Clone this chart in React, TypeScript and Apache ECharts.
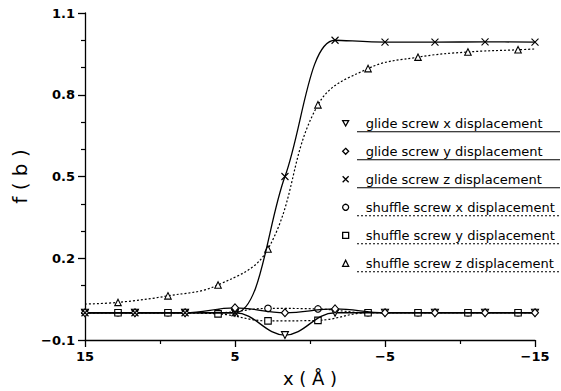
import React, { useEffect, useRef } from "react";
import * as echarts from "echarts";

// ---- data ----
const glidePositions = [15, 11.67, 8.33, 5, 1.67, -1.67, -5, -8.33, -11.67, -15];
const glideXDisp = [0, 0, 0, 0, -0.082, 0, 0, 0, 0, 0];
const glideYDisp = [0, 0, 0, 0.018, 0.0, 0.014, 0, 0, 0, 0];
const glideZDisp = [0, 0, 0, 0, 0.5, 1.0, 0.993, 0.993, 0.994, 0.993];

const shufflePositions = [15, 12.8, 9.47, 6.13, 2.8, -0.53, -3.87, -7.2, -10.53, -13.87, -15];
const shuffleXDisp = [0, 0, 0, 0, 0.016, 0.014, 0, 0, 0, 0, 0];
const shuffleYDisp = [0, 0, 0, -0.004, -0.03, -0.028, 0, 0, 0, 0, 0];
const shuffleZDisp = [0.032, 0.038, 0.062, 0.102, 0.234, 0.763, 0.896, 0.938, 0.957, 0.965, 0.968];
// first and last shuffle points are curve ends without a marker
const shuffleMarked = [false, true, true, true, true, true, true, true, true, true, false];

const seriesNames = [
  "glide screw x displacement",
  "glide screw y displacement",
  "glide screw z displacement",
  "shuffle screw x displacement",
  "shuffle screw y displacement",
  "shuffle screw z displacement",
];

const SYM_DOWN = "path://M0,0L10,0L5,9Z";
const SYM_CROSS = "path://M0,0L10,10M10,0L0,10";
const symbols = [SYM_DOWN, "diamond", SYM_CROSS, "circle", "rect", "triangle"];

const FONT = "DejaVu Sans";

function fmtMinus(v: number, digits: number) {
  const s = v.toFixed(digits);
  return s.replace("-", "\u2212");
}

export default function App() {
  const ref = useRef<HTMLDivElement>(null);
  useEffect(() => {
    document.body.style.margin = "0";
    if (!ref.current) return;
    const chart = echarts.init(ref.current, undefined, { renderer: "svg" });

    const itemStyle = { color: "#fff", borderColor: "#000", borderWidth: 1.1 };

    const glideSeries = [glideXDisp, glideYDisp, glideZDisp].map((vals, i) => ({
      name: seriesNames[i],
      type: "line",
      data: glidePositions.map((x, k) => [x, vals[k]]),
      symbol: symbols[i],
      symbolSize: i === 1 ? [7, 8] : 7,
      showAllSymbol: true,
      smooth: i === 2 ? 0.35 : 0.4,
      lineStyle: { color: "#000", width: 1.3, type: "solid" },
      itemStyle,
      z: 3,
    }));

    const shuffleSeries = [shuffleXDisp, shuffleYDisp, shuffleZDisp].map((vals, i) => ({
      name: seriesNames[i + 3],
      type: "line",
      data: shufflePositions.map((x, k) =>
        shuffleMarked[k] ? { value: [x, vals[k]] } : { value: [x, vals[k]], symbol: "none" }
      ),
      symbol: symbols[i + 3],
      symbolSize: 6.5,
      showAllSymbol: true,
      smooth: 0.4,
      lineStyle: { color: "#000", width: 1.2, type: [2, 2] },
      itemStyle,
      z: 2,
    }));

    const rowTop = 123.3;
    const rowGap = 28;
    const underlines = seriesNames.map((_, i) => ({
      type: "line",
      shape: { x1: 357, y1: rowTop + i * rowGap + 8.5, x2: 560, y2: rowTop + i * rowGap + 8.5 },
      style: { stroke: "#000", lineWidth: 1.1, lineDash: i < 3 ? null : [2, 2] },
      silent: true,
    }));

    chart.setOption({
      animation: false,
      backgroundColor: "#fff",
      grid: { left: 85, right: 26, top: 13, bottom: 51, outerBoundsMode: "none", containLabel: false },
      xAxis: {
        type: "value",
        inverse: true,
        min: -15,
        max: 15,
        interval: 10,
        name: "x ( \u00c5 )",
        nameLocation: "middle",
        nameGap: 29,
        nameTextStyle: { fontFamily: FONT, fontSize: 18, color: "#000" },
        axisLine: { show: true, onZero: false, lineStyle: { color: "#000", width: 1.3 } },
        axisTick: { show: true, inside: false, length: 7, lineStyle: { color: "#000", width: 1.3 } },
        minorTick: { show: true, splitNumber: 2, length: 4, lineStyle: { color: "#000", width: 1.2 } },
        splitLine: { show: false },
        axisLabel: {
          fontFamily: FONT,
          fontSize: 13,
          fontWeight: "bold",
          color: "#000",
          margin: 10,
          formatter: (v: number) => fmtMinus(v, 0),
        },
      },
      yAxis: {
        type: "value",
        min: -0.1,
        max: 1.1,
        interval: 0.3,
        name: "f ( b )",
        nameLocation: "middle",
        nameGap: 51,
        nameRotate: 90,
        nameTextStyle: { fontFamily: FONT, fontSize: 20, color: "#000" },
        axisLine: { show: true, onZero: false, lineStyle: { color: "#000", width: 1.3 } },
        axisTick: { show: true, inside: false, length: 7, lineStyle: { color: "#000", width: 1.3 } },
        minorTick: { show: true, splitNumber: 3, length: 4, lineStyle: { color: "#000", width: 1.2 } },
        splitLine: { show: false },
        axisLabel: {
          fontFamily: FONT,
          fontSize: 13,
          fontWeight: "bold",
          color: "#000",
          margin: 10,
          formatter: (v: number) => fmtMinus(v, 1),
        },
      },
      legend: {
        orient: "vertical",
        left: 342,
        top: rowTop - 8,
        padding: 0,
        itemWidth: 6,
        itemHeight: 6,
        itemGap: rowGap - 16,
        selectedMode: false,
        data: seriesNames.map((n, i) => ({ name: n, icon: symbols[i] })),
        itemStyle: { color: "#fff", borderColor: "#000", borderWidth: 1.3 },
        textStyle: { fontFamily: FONT, fontSize: 13, lineHeight: 16, color: "#000", padding: [0, 0, 0, 12] },
      },
      graphic: underlines,
      series: [...glideSeries, ...shuffleSeries],
    });
    return () => chart.dispose();
  }, []);
  return <div ref={ref} style={{ width: 561, height: 391 }} />;
}
